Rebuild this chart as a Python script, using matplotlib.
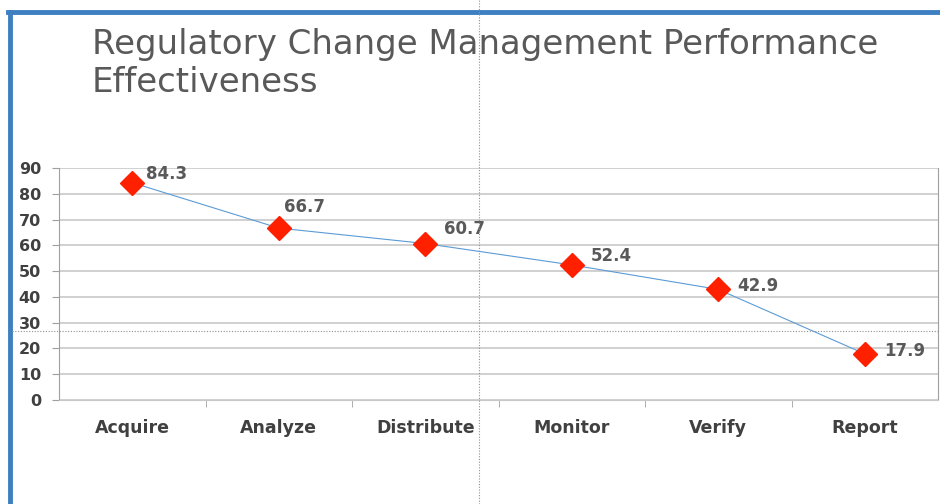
import matplotlib
matplotlib.use("Agg")
import matplotlib.pyplot as plt
from matplotlib.lines import Line2D

stages = ["Acquire", "Analyze", "Distribute", "Monitor", "Verify", "Report"]
scores = [84.3, 66.7, 60.7, 52.4, 42.9, 17.9]
yticks = [0, 10, 20, 30, 40, 50, 60, 70, 80, 90]

# label nudges in pixels (right, up), as placed in the original
label_nudge = [(14, 9), (5, 21), (19, 15), (19, 9), (19, 3), (19, 3)]

fig = plt.figure(figsize=(9.4, 5.04), dpi=100)
ax = fig.add_axes([59/940, 1-400/504, 879/940, 232/504])

x = list(range(len(stages)))
ax.plot(x, scores, color="#5b9bd5", lw=0.8, zorder=2)
ax.plot(x, scores, ls="none", marker="D", ms=12, color="#ff2000", zorder=3)
for i, v in enumerate(scores):
    ax.annotate(f"{v}", (i, v), xytext=label_nudge[i], textcoords="offset pixels",
                ha="left", va="center",
                fontsize=12, fontweight="bold", color="#595959")

ax.set_xlim(-0.5, 5.5)
ax.set_ylim(0, 90)
ax.set_yticks(yticks)
ax.set_xticks(x)
ax.set_xticklabels(stages)
ax.set_xticks([i + 0.5 for i in x[:-1]], minor=True)
ax.tick_params(axis="x", which="major", length=0, pad=14)
ax.tick_params(axis="x", which="minor", length=5, color="#a0a0a0")
ax.tick_params(axis="y", length=5, color="#a0a0a0", pad=8)
for lab in ax.get_xticklabels():
    lab.set_fontweight("bold")
    lab.set_color("#404040")
    lab.set_fontsize(12.5)
for lab in ax.get_yticklabels():
    lab.set_fontweight("bold")
    lab.set_color("#404040")
    lab.set_fontsize(11.5)
ax.grid(axis="y", color="#c8c8c8", lw=1.2)
ax.set_axisbelow(True)
ax.spines["top"].set_visible(False)
ax.spines["left"].set_color("#a0a0a0")
ax.spines["right"].set_color("#a0a0a0")
ax.spines["bottom"].set_color("#c8c8c8")

fig.text(92/940, 1-28/504, "Regulatory Change Management Performance\nEffectiveness",
         fontsize=24.5, color="#595959", ha="left", va="top", linespacing=1.18)

# slide frame and guides
fig.add_artist(Line2D([10/940, 10/940], [0, 1-12/504], color="#3d7fc1", lw=3.5))
fig.add_artist(Line2D([8/940, 1], [1-12/504, 1-12/504], color="#3d7fc1", lw=3.5))
fig.add_artist(Line2D([479/940, 479/940], [0, 1], color="#909090", lw=0.8, ls=(0, (1, 1.5))))
fig.add_artist(Line2D([12/940, 1], [1-331/504, 1-331/504], color="#909090", lw=0.8, ls=(0, (1, 1.5))))

fig.savefig("out.png", dpi=100)
